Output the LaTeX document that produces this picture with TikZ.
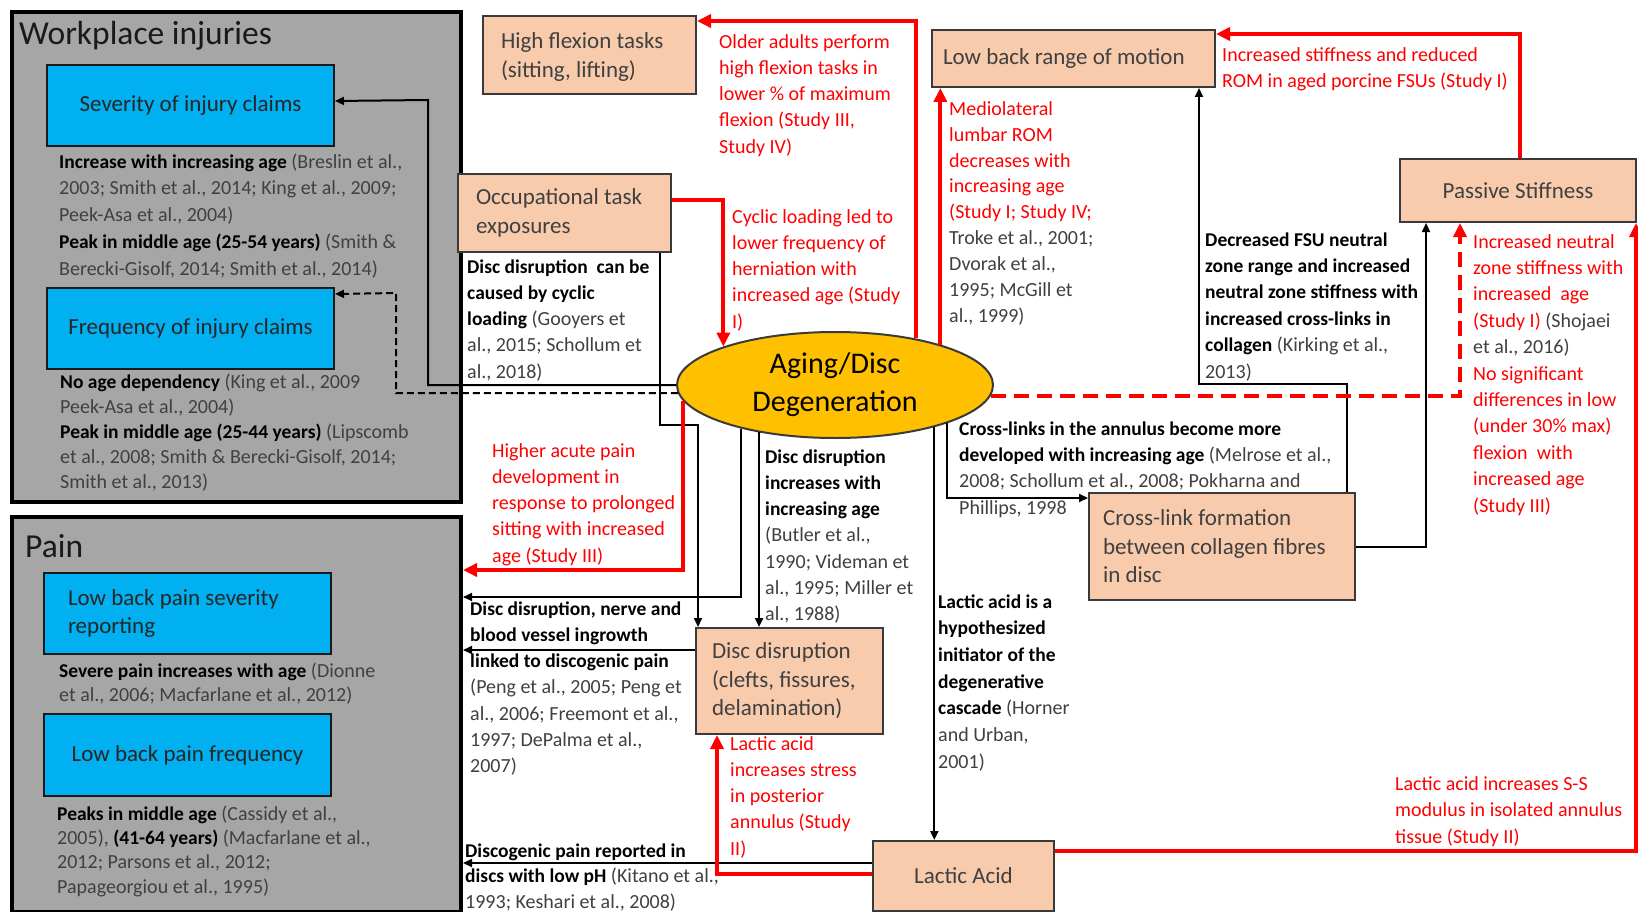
\documentclass[tikz,border=0pt]{standalone}
\usepackage{fontspec}
\setmainfont{Carlito}
\usetikzlibrary{arrows.meta,shapes.geometric}

\definecolor{peach}{HTML}{F8CBAD}
\definecolor{skyblue}{HTML}{00B0F0}
\definecolor{panelgray}{HTML}{A6A6A6}
\definecolor{gold}{HTML}{FFC000}
\definecolor{citegray}{HTML}{404040}
\definecolor{edgegray}{HTML}{3A3A3A}
\definecolor{pured}{HTML}{FF0000}

% font size with baseline skip
\newcommand{\fsz}[2]{\fontsize{#1}{#2}\selectfont}
% a finding (bold, black) and a reference (grey)
\newcommand{\clm}[1]{{\color{black}\bfseries\fontsize{19.5}{26}\selectfont #1}}
\newcommand{\refg}[1]{{\color{citegray}#1}}

\begin{document}
\begin{tikzpicture}[x=1pt,y=-1pt,
  panel/.style={draw=black, line width=4pt, fill=panelgray, anchor=north west, inner sep=0pt},
  heading/.style={anchor=base west, inner sep=0pt, text=black!90, font=\fsz{33.5}{40}},
  bluebox/.style={draw=black!90, line width=2pt, fill=skyblue, text=black!85,
    anchor=north west, inner sep=0pt, align=center, font=\fsz{23}{28.5}},
  peachbox/.style={draw=edgegray, line width=2pt, fill=peach, text=citegray,
    anchor=north west, inner sep=0pt, align=center, font=\fsz{23}{28.5}},
  note/.style={anchor=north west, inner sep=0pt, align=left, text=citegray},
  rednote/.style={note, text=pured},
  blk/.style={draw=black, line width=2pt, -{Triangle[length=9pt,width=8pt]}},
  blkdash/.style={blk, dash pattern=on 7pt off 4pt},
  redarr/.style={draw=pured, line width=4pt, -{Triangle[length=14pt,width=13pt]}},
  reddash/.style={redarr, dash pattern=on 15pt off 8pt},
]
\useasboundingbox (0,0) rectangle (1638,912);
\fill[white] (0,0) rectangle (1638,912);

% ---------- grey panels ----------
\node[panel, minimum width=449pt, minimum height=490pt] (wp) at (10,10) {};
\node[panel, minimum width=449pt, minimum height=395pt] (painp) at (10,515) {};
\node[heading] (wph) at (19,45) {Workplace injuries};
\node[heading] (painh) at (25,557) {Pain};

% ---------- outcome boxes ----------
\node[bluebox, minimum width=287pt, minimum height=81pt] (sev) at (46,64) {Severity of injury claims};
\node[bluebox, minimum width=287pt, minimum height=81pt] (freq) at (46,287) {Frequency of injury claims};
\node[bluebox, minimum width=287pt, minimum height=81pt, text width=239pt, inner xsep=24pt, align=flush left]
  (lbps) at (43,572) {Low back pain severity\\reporting};
\node[bluebox, minimum width=287pt, minimum height=82pt] (lbpf) at (43,713) {Low back pain frequency};

% ---------- factor boxes ----------
\node[peachbox, minimum width=213pt, minimum height=78pt, text width=177pt, inner xsep=18pt, align=flush left]
  (hf) at (482,15) {\strut High flexion tasks\\(sitting, lifting)};
\node[peachbox, minimum width=213pt, minimum height=78pt, text width=177pt, inner xsep=18pt, align=flush left]
  (occ) at (457,173) {Occupational task\\exposures};
\node[peachbox, minimum width=283pt, minimum height=57pt, text width=261pt, inner xsep=11pt, align=flush left]
  (rom) at (931,29) {Low back range of motion};
\node[peachbox, minimum width=236pt, minimum height=63pt] (ps) at (1399,158) {Passive Stiffness};
\node[peachbox, minimum width=266pt, minimum height=107pt, text width=238pt, inner xsep=14pt, align=flush left]
  (cl) at (1088,492) {Cross-link formation\\between collagen fibres\\in disc};
\node[peachbox, minimum width=187pt, minimum height=106pt, text width=155pt, inner xsep=16pt, align=flush left]
  (dd) at (695,627) {Disc disruption\\(clefts, fissures,\\delamination)};
\node[peachbox, minimum width=181pt, minimum height=70pt] (la) at (872,840) {Lactic Acid};

% ---------- central ellipse ----------
\node[ellipse, draw=edgegray, line width=2pt, fill=gold, minimum width=316pt, minimum height=106pt,
  inner sep=0pt, align=center, text=black, font=\fsz{30}{38}] (deg) at (835,385) {Aging/Disc\\Degeneration};

% ---------- notes inside the panels ----------
\node[note, font=\fsz{20}{26.75}] (sevn) at (59,149.3)
  {\strut\clm{Increase with increasing age} (Breslin et al.,\\2003; Smith et al., 2014; King et al., 2009;\\Peek-Asa et al., 2004)\\\clm{Peak in middle age (25-54 years)} (Smith \&\\Berecki-Gisolf, 2014; Smith et al., 2014)};
\node[note, font=\fsz{20}{25}] (freqn) at (60,370.5)
  {\strut\clm{No age dependency} (King et al., 2009\\Peek-Asa et al., 2004)\\\clm{Peak in middle age (25-44 years)} (Lipscomb\\et al., 2008; Smith \& Berecki-Gisolf, 2014;\\Smith et al., 2013)};
\node[note, font=\fsz{20}{24}] (lbpsn) at (59,660.2)
  {\strut\clm{Severe pain increases with age} (Dionne\\et al., 2006; Macfarlane et al., 2012)};
\node[note, font=\fsz{20}{24.3}] (lbpfn) at (57,803)
  {\strut\clm{Peaks in middle age} (Cassidy et al.,\\2005), \clm{(41-64 years)} (Macfarlane et al.,\\2012; Parsons et al., 2012;\\Papageorgiou et al., 1995)};

% ---------- connector notes ----------
\node[rednote, font=\fsz{20}{26.2}] (oldn) at (719,29.7)
  {\strut Older adults perform\\high flexion tasks in\\lower \% of maximum\\flexion (Study III,\\Study IV)};
\node[rednote, font=\fsz{20}{26.25}] (cycn) at (732,204.6)
  {\strut Cyclic loading led to\\lower frequency of\\herniation with\\increased age (Study\\I)};
\node[note, font=\fsz{20}{26.25}] (ddcn) at (467,254.6)
  {\strut\clm{Disc disruption\ \ can be}\\\clm{caused by cyclic}\\\clm{loading} (Gooyers et\\al., 2015; Schollum et\\al., 2018)};
\node[rednote, font=\fsz{20}{26.25}] (hapn) at (492,438.6)
  {\strut Higher acute pain\\development in\\response to prolonged\\sitting with increased\\age (Study III)};
\node[note, font=\fsz{20}{26.2}] (ddin) at (765,444.7)
  {\strut\clm{Disc disruption}\\\clm{increases with}\\\clm{increasing age}\\(Butler et al.,\\1990; Videman et\\al., 1995; Miller et\\al., 1988)};
\node[note, font=\fsz{20}{26.2}] (ddnn) at (470,596.7)
  {\strut\clm{Disc disruption, nerve and}\\\clm{blood vessel ingrowth}\\\clm{linked to discogenic pain}\\(Peng et al., 2005; Peng et\\al., 2006; Freemont et al.,\\1997; DePalma et al.,\\2007)};
\node[rednote, font=\fsz{20}{26.25}] (lasn) at (730,731.6)
  {\strut Lactic acid\\increases stress\\in posterior\\annulus (Study\\II)};
\node[note, font=\fsz{20}{25.5}] (dpn) at (465,839.1)
  {\strut\clm{Discogenic pain reported in}\\\clm{discs with low pH} (Kitano et al.,\\1993; Keshari et al., 2008)};
\node[note, font=\fsz{20}{26.67}] (lahn) at (938,589.3)
  {\strut\clm{Lactic acid is a}\\\clm{hypothesized}\\\clm{initiator of the}\\\clm{degenerative}\\\clm{cascade} (Horner\\and Urban,\\2001)};
\node[rednote, font=\fsz{20}{26}] (isrn) at (1222,42.8)
  {\strut Increased stiffness and reduced\\ROM in aged porcine FSUs (Study I)};
\node[rednote, font=\fsz{20}{25.9}] (medn) at (949,96.9)
  {\strut Mediolateral\\lumbar ROM\\decreases with\\increasing age\\(Study I; Study IV;\\\refg{Troke et al., 2001;}\\\refg{Dvorak et al.,}\\\refg{1995; McGill et}\\\refg{al., 1999)}};
\node[note, font=\fsz{20}{26.4}] (fsun) at (1205,227.5)
  {\strut\clm{Decreased FSU neutral}\\\clm{zone range and increased}\\\clm{neutral zone stiffness with}\\\clm{increased cross-links in}\\\clm{collagen} (Kirking et al.,\\2013)};
\node[rednote, font=\fsz{20}{26.4}] (psn) at (1473,229.5)
  {\strut Increased neutral\\zone stiffness with\\increased\ \ age\\(Study I) \refg{(Shojaei}\\\refg{et al., 2016)}\\No significant\\differences in low\\(under 30\% max)\\flexion\ \ with\\increased age\\(Study III)};
\node[note, font=\fsz{20}{26.3}] (cran) at (959,416.6)
  {\strut\clm{Cross-links in the annulus become more}\\\clm{developed with increasing age} (Melrose et al.,\\2008; Schollum et al., 2008; Pokharna and\\Phillips, 1998};
\node[rednote, font=\fsz{20}{26.5}] (lssn) at (1395,771.5)
  {\strut Lactic acid increases S-S\\modulus in isolated annulus\\tissue (Study II)};

% ---------- bend points ----------
\coordinate (a1) at (428,100);
\coordinate (b1) at (396,293);
\coordinate (e1) at (680,425);
\coordinate (f1) at (0,570);
\coordinate (g1) at (0,597);
\coordinate (i1) at ([yshift=31pt]dd.west);
\coordinate (k1) at ([yshift=13pt]la.west);
\coordinate (n1) at (1199,384);

% ---------- black connectors ----------
\draw[blk] (deg.180) -| (a1) -- ([yshift=4.5pt]sev.east);
\draw[blkdash] (deg.183) -| (b1) -- ([yshift=34.5pt]freq.east);
\draw[blk] ([xshift=-12pt]occ.south east) |- (e1) -| ([xshift=3pt]dd.north west);
\draw[blk] (deg.205) |- (g1 -| painp.east);
\draw[blk] (deg.212) -- (deg.212 |- dd.north);
\draw[blk] (i1) -- (i1 -| painp.east);
\draw[blk] (deg.337) -- (deg.337 |- la.north);
\draw[blk] (k1) -- (k1 -| painp.east);
\draw[blk] (deg.341) |- ([yshift=-6pt]cl.north west);
\draw[blk] ([xshift=-9pt]cl.north east) |- (n1) -- (n1 |- rom.south);
\draw[blk] (cl.east) -| ([xshift=27pt]ps.south west);

% ---------- red connectors ----------
\draw[redarr] (deg.30) |- ([yshift=-6pt]hf.north east);
\draw[redarr] ([yshift=13pt]occ.east) -| (deg.161);
\draw[redarr] (deg.186) |- (f1 -| painp.east);
\draw[redarr] ([yshift=2pt]la.west) -| ([xshift=22pt]dd.south west);
\draw[reddash] (deg.356) -| ([xshift=61pt]ps.south west);
\draw[redarr] (deg.21) -- (deg.21 |- rom.south);
\draw[redarr] ([xshift=121pt]ps.north west) |- ([yshift=-5pt]rom.north east);
\draw[redarr] ([yshift=25pt]la.east) -| ([xshift=-1pt]ps.south east);
\end{tikzpicture}
\end{document}
